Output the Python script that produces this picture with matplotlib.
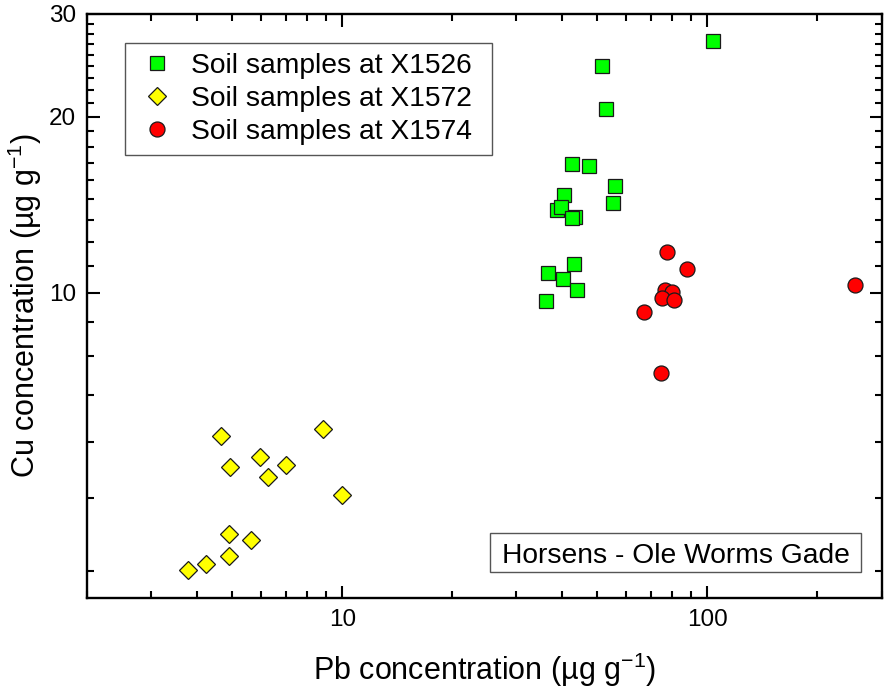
import matplotlib
matplotlib.use("Agg")
import matplotlib.pyplot as plt
import numpy as np
from matplotlib.patches import Rectangle
from matplotlib.ticker import FixedLocator, LogLocator, NullFormatter, FixedFormatter

plt.rcParams['font.family'] = ['Liberation Sans', 'DejaVu Sans']
plt.rcParams['mathtext.fontset'] = 'custom'
plt.rcParams['mathtext.rm'] = 'Liberation Sans'
plt.rcParams['mathtext.it'] = 'Liberation Sans:italic'
plt.rcParams['mathtext.default'] = 'regular'

# Soil samples at X1526 (Pb, Cu)
pb_1526 = [103.4, 51.4, 52.6, 42.6, 47.3, 55.8, 55.0, 40.4, 38.7, 39.6, 43.5, 42.6, 43.0, 36.7, 40.1, 44.0, 36.1]
cu_1526 = [27.0, 24.4, 20.6, 16.6, 16.45, 15.2, 14.25, 14.7, 13.85, 14.0, 13.45, 13.4, 11.18, 10.82, 10.54, 10.1, 9.67]

# Soil samples at X1572
pb_1572 = [4.65, 8.87, 4.92, 5.95, 7.0, 6.28, 10.0, 4.90, 5.62, 4.90, 4.24, 3.79]
cu_1572 = [5.67, 5.84, 5.02, 5.22, 5.06, 4.83, 4.49, 3.85, 3.76, 3.54, 3.42, 3.34]

# Soil samples at X1574
pb_1574 = [77.7, 88.1, 253.0, 76.4, 80.0, 75.3, 81.2, 67.1, 74.5]
cu_1574 = [11.74, 10.99, 10.3, 10.1, 10.03, 9.77, 9.69, 9.26, 7.28]

labels = ["Soil samples at X1526", "Soil samples at X1572", "Soil samples at X1574"]
site = "Horsens - Ole Worms Gade"

fig = plt.figure(figsize=(8.86, 6.93), dpi=100)
ax = fig.add_axes([0.0982, 0.1375, 0.8969, 0.8423])

ax.plot(pb_1526, cu_1526, ls='none', marker='s', ms=9.4, mfc='#00ff00', mec='#1a1a1a', mew=0.9, label=labels[0])
ax.plot(pb_1572, cu_1572, ls='none', marker='D', ms=8.9, mfc='#ffff00', mec='#1a1a1a', mew=0.9, label=labels[1])
ax.plot(pb_1574, cu_1574, ls='none', marker='o', ms=10.8, mfc='#ff0000', mec='#1a1a1a', mew=0.9, label=labels[2])

ax.set_xscale('log')
ax.set_yscale('log')
ax.set_xlim(2, 300)
ax.set_ylim(3, 30)

ax.xaxis.set_major_locator(FixedLocator([10, 100]))
ax.xaxis.set_major_formatter(FixedFormatter(['10', '100']))
ax.xaxis.set_minor_locator(LogLocator(base=10, subs=np.arange(2, 10)))
ax.xaxis.set_minor_formatter(NullFormatter())

# Origin-style ticks: major every 10, 8 minor ticks between
ax.yaxis.set_major_locator(FixedLocator([10, 20, 30]))
ax.yaxis.set_major_formatter(FixedFormatter(['10', '20', '30']))
ax.yaxis.set_minor_locator(FixedLocator([v for v in np.arange(1, 27) * 10 / 9 if v % 10 > 1e-6 and abs(v % 10 - 10) > 1e-6]))
ax.yaxis.set_minor_formatter(NullFormatter())

for s in ax.spines.values():
    s.set_linewidth(1.7)
ax.tick_params(which='both', direction='in', top=True, right=True, width=1.5)
ax.tick_params(which='major', length=9, labelsize=17.5, pad=8)
ax.tick_params(which='minor', length=5)

ax.set_xlabel('Pb concentration (µg g$^{-1}$)', fontsize=22)
ax.set_ylabel('Cu concentration (µg g$^{-1}$)', fontsize=22)
ax.xaxis.set_label_coords(0.5, -0.09)
ax.yaxis.set_label_coords(-0.054, 0.5)

leg = ax.legend(loc='upper left', bbox_to_anchor=(0.0478, 0.80, 0.4618, 0.1503), mode='expand',
                borderaxespad=0, fontsize=20.3, fancybox=False, framealpha=1, edgecolor='#555555',
                handletextpad=0.4, borderpad=0.35, labelspacing=0.25, handlelength=1.6)
leg.get_frame().set_linewidth(1.0)

ax.add_patch(Rectangle((0.5071, 0.0440), 0.4669, 0.0668, transform=ax.transAxes,
                       fc='white', ec='#555555', lw=1.0, zorder=4))
ax.text(0.7405, 0.0774, site, transform=ax.transAxes, fontsize=20.3, ha='center', va='center_baseline', zorder=5)

fig.savefig('out.png', dpi=100)
